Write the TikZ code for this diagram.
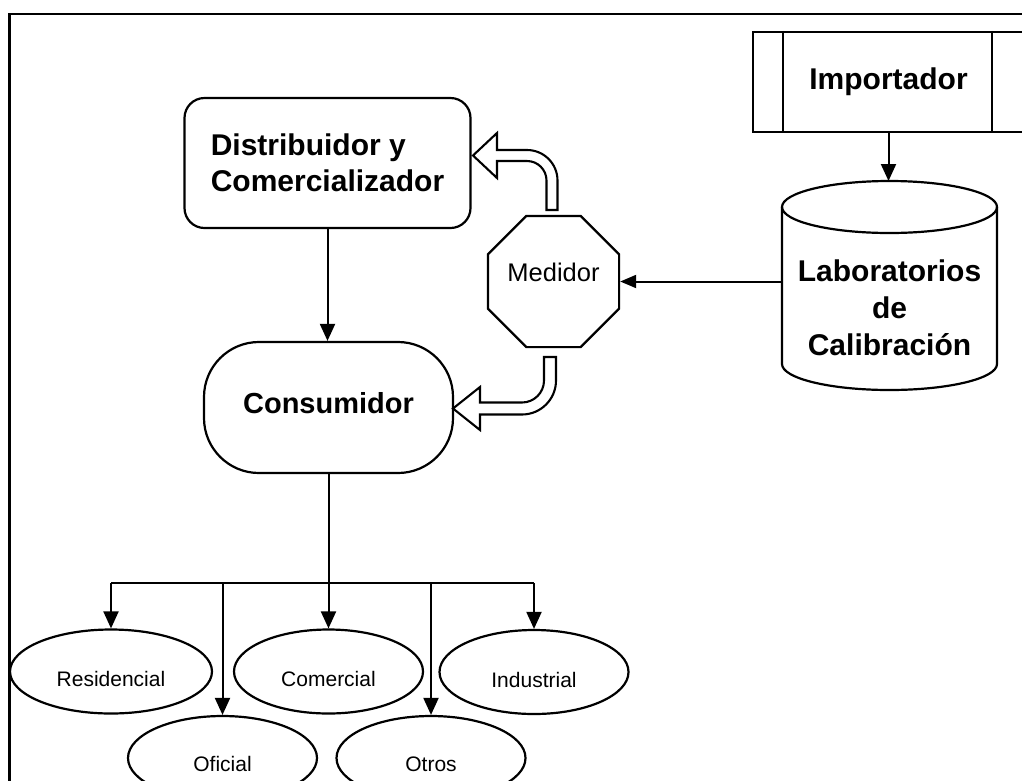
\documentclass[tikz,border=0pt]{standalone}
\usepackage{fontspec}
\setmainfont{Liberation Sans}
\usetikzlibrary{shapes.geometric,arrows.meta}
\tikzset{
  shp/.style={draw, line width=2.2pt},
  conn/.style={line width=2pt},
  arr/.style={conn, -{Triangle[length=17pt,width=15pt]}},
  bigtxt/.style={font=\fontsize{30}{36}\selectfont\bfseries},
  smalltxt/.style={font=\fontsize{21}{25}\selectfont},
  ell/.style={shp, ellipse, minimum width=189pt, minimum height=84pt, inner sep=0pt, text height=30pt, text depth=0pt, smalltxt},
  hollow/.style={line width=2.1pt, fill=white, line join=miter},
  frame/.style={line width=2.6pt}
}
\begin{document}
\begin{tikzpicture}[x=1pt,y=-1pt]
\useasboundingbox (0,0) rectangle (1022,780);
% outer frame (only top and left edges visible)
\draw[frame] (9.5,800) -- (9.5,14) -- (1040,14);

% Importador
\node[shp, minimum width=271pt, minimum height=100pt, bigtxt] (imp) at (888.5,82) {Importador};
\draw[shp] ([xshift=31pt]imp.north west) -- ([xshift=31pt]imp.south west);
\draw[shp] ([xshift=-33pt]imp.north east) -- ([xshift=-33pt]imp.south east);

% Laboratorios (cylinder)
\draw[shp] (889.5,207) ellipse [x radius=107.5, y radius=26];
\draw[shp] (782,207) -- (782,364) arc[start angle=180, end angle=0, x radius=107.5, y radius=26] -- (997,207);
\node[font=\fontsize{30}{37}\selectfont\bfseries, align=center] (lab) at (889.5,307.5) {Laboratorios\\de\\Calibración};
\coordinate (labtop) at (888.5,181);
\coordinate (labw) at (782,281.5);

% Medidor
\node[shp, regular polygon, regular polygon sides=8, minimum size=142pt, inner sep=0pt,
      font=\fontsize{25.5}{30}\selectfont, text height=10pt, text depth=10pt] (med) at (553.5,281.5) {Medidor};

% Distribuidor y Comercializador
\node[shp, rounded corners=20pt, minimum width=286pt, minimum height=130pt, align=left, bigtxt] (dist) at (327.5,163) {Distribuidor y\\Comercializador};

% Consumidor
\node[shp, rounded corners=55pt, minimum width=249pt, minimum height=131pt,
      font=\fontsize{29}{35}\selectfont\bfseries, text height=22pt, text depth=11pt] (cons) at (328.5,407.5) {Consumidor};

% categories
\node[ell, minimum width=202pt] (res) at (111,671.5) {Residencial};
\node[ell] (com) at (328.5,671.5) {Comercial};
\node[ell] (ind) at (534,672) {Industrial};
\node[ell, text height=26pt] (ofi) at (222.5,758) {Oficial};
\node[ell, text height=26pt] (otr) at (431,758) {Otros};

% connectors
\draw[arr] (imp.south) -- (labtop);
\draw[arr, -{Triangle[length=16pt,width=13pt]}] (labw) -- (med.east);
\draw[arr] (dist.south) -- (dist.south |- cons.north);

\coordinate (bus) at (328.5,583);
\coordinate (busL) at (111,583);
\coordinate (busR) at (534,583);
\coordinate (busO) at (222.5,583);
\coordinate (busT) at (431,583);
\draw[conn] (cons.south) -- (bus);
\draw[conn] (busL) -- (busR);
\draw[arr] (busL) -- (res.north);
\draw[arr] (bus) -- (com.north);
\draw[arr] (busR) -- (ind.north);
\draw[arr] (busO) -- (ofi.north);
\draw[arr] (busT) -- (otr.north);

% hollow arrows from Medidor
\draw[hollow] (557.5,210) -- (557.5,180.5) arc[start angle=0,end angle=-90,radius=30.5]
  -- (497,150) -- (497,133) -- (473,155.5) -- (497,178) -- (497,161) -- (527,161)
  arc[start angle=-90,end angle=0,radius=19.5] -- (546.5,210) -- cycle;
\draw[hollow] (556,357) -- (556,380.5) arc[start angle=0,end angle=90,radius=34]
  -- (480,414.5) -- (480,430) -- (453,408.5) -- (480,387) -- (480,402.5) -- (522,402.5)
  arc[start angle=90,end angle=0,radius=22] -- (544,357) -- cycle;
\end{tikzpicture}
\end{document}
